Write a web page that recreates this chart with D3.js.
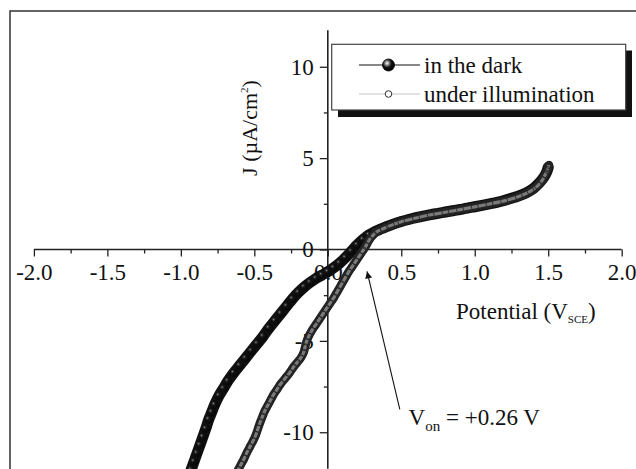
<!DOCTYPE html>
<html>
<head>
<meta charset="utf-8">
<script src="https://cdn.jsdelivr.net/npm/d3@7"></script>
<style>
  html, body { margin: 0; padding: 0; background: #fff; }
  svg { display: block; }
  text { font-family: "Liberation Serif", "Times New Roman", serif; fill: #111; }
</style>
</head>
<body>
<svg id="chart" width="636" height="469"></svg>
<script>
// ---------- data ----------
const darkX = [-0.93,-0.91,-0.89,-0.87,-0.85,-0.83,-0.81,-0.79,-0.77,-0.74,-0.71,-0.68,-0.64,-0.60,-0.56,-0.52,-0.48,-0.44,-0.40,-0.36,-0.32,-0.28,-0.24,-0.20,-0.16,-0.12,-0.08,-0.04,0.00,0.04,0.08,0.12,0.16,0.20,0.24,0.28,0.32,0.36,0.40,0.45,0.50,0.55,0.60,0.65,0.70,0.75,0.80,0.85,0.90,0.95,1.00,1.05,1.10,1.15,1.20,1.25,1.30,1.35,1.40,1.44,1.47,1.49,1.50];
const darkJ = [-12.05,-11.6,-11.15,-10.7,-10.25,-9.8,-9.3,-8.9,-8.5,-8.0,-7.6,-7.2,-6.75,-6.35,-5.95,-5.55,-5.15,-4.75,-4.3,-3.9,-3.5,-3.1,-2.7,-2.35,-2.05,-1.8,-1.58,-1.4,-1.22,-1.0,-0.75,-0.45,-0.1,0.25,0.55,0.8,0.98,1.12,1.25,1.4,1.53,1.64,1.74,1.83,1.91,1.98,2.05,2.12,2.19,2.26,2.34,2.42,2.5,2.58,2.68,2.8,2.93,3.1,3.35,3.65,3.95,4.25,4.5];

const illumX = [-0.61,-0.59,-0.57,-0.55,-0.53,-0.51,-0.49,-0.475,-0.46,-0.445,-0.43,-0.41,-0.39,-0.37,-0.345,-0.32,-0.29,-0.26,-0.235,-0.21,-0.185,-0.165,-0.155,-0.145,-0.13,-0.11,-0.085,-0.06,-0.035,-0.01,0.015,0.04,0.065,0.09,0.115,0.14,0.165,0.19,0.215,0.24,0.26,0.28,0.31,0.34,0.38,0.43,0.50,0.60,0.70,0.80,0.90,1.00,1.10,1.20,1.30,1.38,1.43,1.46,1.48,1.495,1.50,1.505];
const illumJ = [-12.05,-11.75,-11.45,-11.1,-10.8,-10.5,-10.15,-9.8,-9.45,-9.15,-8.85,-8.55,-8.25,-7.95,-7.65,-7.35,-7.05,-6.75,-6.45,-6.2,-5.95,-5.65,-5.35,-5.05,-4.75,-4.45,-4.15,-3.85,-3.55,-3.25,-2.95,-2.65,-2.3,-1.95,-1.6,-1.25,-0.95,-0.65,-0.35,-0.05,0.2,0.5,0.8,1.0,1.15,1.32,1.52,1.72,1.9,2.04,2.18,2.33,2.49,2.66,2.9,3.2,3.5,3.8,4.1,4.35,4.5,4.62];

const seriesNames = ["in the dark", "under illumination"];

const xMajorTicks = [-2.0,-1.5,-1.0,-0.5,0.0,0.5,1.0,1.5,2.0];
const xTickLabels = ["-2.0","-1.5","-1.0","-0.5","0.0","0.5","1.0","1.5","2.0"];
const xMinorTicks = [-1.75,-1.25,-0.75,-0.25,0.25,0.75,1.25,1.75];
const yMajorTicks = [-10,-5,0,5,10];
const yTickLabels = ["-10","-5","0","5","10"];
const yMinorTicks = [-7.5,-2.5,2.5,7.5];

const vonLabel = "+0.26";
const arrowTip = [0.267, -1.2];   // data coords
const arrowTail = [0.49, -8.75];
const vonTextPos = [0.55, -9.6];

// ---------- setup ----------
const svg = d3.select("#chart");
const x = d3.scaleLinear().domain([-2, 2]).range([33.9, 621.7]);
const y = d3.scaleLinear().domain([-12, 12]).range([468.8, 30.2]);

const defs = svg.append("defs");
const grad = defs.append("radialGradient").attr("id", "sphere")
  .attr("cx", "38%").attr("cy", "35%").attr("r", "60%");
grad.append("stop").attr("offset", "0%").attr("stop-color", "#fff");
grad.append("stop").attr("offset", "25%").attr("stop-color", "#999");
grad.append("stop").attr("offset", "60%").attr("stop-color", "#111");
grad.append("stop").attr("offset", "100%").attr("stop-color", "#000");

const grad2 = defs.append("radialGradient").attr("id", "sphereDark")
  .attr("cx", "35%").attr("cy", "35%").attr("r", "55%");
grad2.append("stop").attr("offset", "0%").attr("stop-color", "#999");
grad2.append("stop").attr("offset", "18%").attr("stop-color", "#3a3a3a");
grad2.append("stop").attr("offset", "45%").attr("stop-color", "#111");
grad2.append("stop").attr("offset", "100%").attr("stop-color", "#080808");

defs.append("marker").attr("id", "arrowhead")
  .attr("viewBox", "0 0 10 10").attr("refX", 10).attr("refY", 5)
  .attr("markerWidth", 12).attr("markerHeight", 7).attr("markerUnits", "userSpaceOnUse")
  .attr("orient", "auto")
  .append("path").attr("d", "M0,0 L10,5 L0,10 Z").attr("fill", "#111");

// outer frame
svg.append("rect").attr("x", 10).attr("y", 11).attr("width", 700).attr("height", 600)
  .attr("fill", "none").attr("stroke", "#333").attr("stroke-width", 1.5);

const fontSize = 23;

// ---------- axes ----------
const xAxisG = svg.append("g").attr("transform", `translate(0,${y(0)})`);
xAxisG.call(d3.axisBottom(x).tickValues(xMajorTicks).tickSize(7).tickPadding(7)
  .tickFormat((d, i) => xTickLabels[i]));
const xMinorG = svg.append("g").attr("transform", `translate(0,${y(0)})`);
xMinorG.call(d3.axisBottom(x).tickValues(xMinorTicks).tickSize(4).tickFormat(""));
xMinorG.select(".domain").remove();

const yAxisG = svg.append("g").attr("transform", `translate(${x(0)},0)`);
yAxisG.call(d3.axisLeft(y).tickValues(yMajorTicks).tickSize(8).tickPadding(6)
  .tickFormat((d, i) => yTickLabels[i]));
const yMinorG = svg.append("g").attr("transform", `translate(${x(0)},0)`);
yMinorG.call(d3.axisLeft(y).tickValues(yMinorTicks).tickSize(4).tickFormat(""));
yMinorG.select(".domain").remove();

[xAxisG, xMinorG, yAxisG, yMinorG].forEach(g => {
  g.selectAll(".domain").attr("stroke", "#222").attr("stroke-width", 1.6);
  g.selectAll(".tick line").attr("stroke", "#222").attr("stroke-width", 1.3);
  g.selectAll("text").attr("font-family", "Liberation Serif").attr("font-size", fontSize).attr("fill", "#111");
});
xAxisG.select(".domain").attr("d", `M${x(-2)},0H${x(2)}`);
yAxisG.select(".domain").attr("d", `M0,${y(-12)}V${y(12)}`);

// ---------- axis titles ----------
const xt = svg.append("text").attr("x", 456).attr("y", 319).attr("font-size", fontSize);
xt.append("tspan").text("Potential (V");
xt.append("tspan").attr("font-size", 11).attr("dy", 4).text("SCE");
xt.append("tspan").attr("dy", -4).text(")");

const yt = svg.append("text").attr("transform", `translate(257,128) rotate(-90)`)
  .attr("text-anchor", "middle").attr("font-size", 22);
yt.append("tspan").text("J (µA/cm");
yt.append("tspan").attr("font-size", 11).attr("dy", -9).text("2");
yt.append("tspan").attr("dy", 9).text(")");

// ---------- series ----------
const darkData = darkX.map((v, i) => [v, darkJ[i]]);
const illumData = illumX.map((v, i) => [v, illumJ[i]]);
const line = d3.line().x(d => x(d[0])).y(d => y(d[1])).curve(d3.curveCatmullRom);

// dark series
svg.append("path").datum(darkData).attr("d", line)
  .attr("fill", "none").attr("stroke", "#111").attr("stroke-width", 11)
  .attr("stroke-linejoin", "round").attr("stroke-linecap", "round");
svg.append("g").selectAll("circle").data(darkData).join("circle")
  .attr("cx", d => x(d[0])).attr("cy", d => y(d[1])).attr("r", 4.5)
  .attr("fill", "url(#sphereDark)").attr("stroke", "#111").attr("stroke-width", 0.6);

// illumination series
svg.append("path").datum(illumData).attr("d", line)
  .attr("fill", "none").attr("stroke", "#222").attr("stroke-width", 8.5)
  .attr("stroke-linejoin", "round").attr("stroke-linecap", "round");
svg.append("path").datum(illumData).attr("d", line)
  .attr("fill", "none").attr("stroke", "#7a7a7a").attr("stroke-width", 3.2);
svg.append("g").selectAll("circle").data(illumData).join("circle")
  .attr("cx", d => x(d[0])).attr("cy", d => y(d[1])).attr("r", 3.5)
  .attr("fill", "none").attr("stroke", "#262626").attr("stroke-width", 0.9);

// ---------- annotation ----------
svg.append("line")
  .attr("x1", x(arrowTail[0])).attr("y1", y(arrowTail[1]))
  .attr("x2", x(arrowTip[0])).attr("y2", y(arrowTip[1]))
  .attr("stroke", "#111").attr("stroke-width", 1.1)
  .attr("marker-end", "url(#arrowhead)");
const vt = svg.append("text").attr("x", x(vonTextPos[0])).attr("y", y(vonTextPos[1])).attr("font-size", fontSize);
vt.append("tspan").text("V");
vt.append("tspan").attr("font-size", 15).attr("dy", 6).text("on");
vt.append("tspan").attr("dy", -6).text(` = ${vonLabel} V`);

// ---------- legend ----------
const lg = svg.append("g");
lg.append("rect").attr("x", 338).attr("y", 50.5).attr("width", 294).attr("height", 66.5).attr("fill", "#111");
lg.append("rect").attr("x", 331.7).attr("y", 44.3).attr("width", 294).attr("height", 65.7)
  .attr("fill", "#fff").attr("stroke", "#444").attr("stroke-width", 1.2);
const rows = [
  {name: seriesNames[0], y: 65, lineColor: "#111", lw: 1.2},
  {name: seriesNames[1], y: 94, lineColor: "#c4c4c4", lw: 1.2}
];
rows.forEach((r, i) => {
  lg.append("line").attr("x1", 359).attr("x2", 420).attr("y1", r.y).attr("y2", r.y)
    .attr("stroke", r.lineColor).attr("stroke-width", r.lw);
  if (i === 0) {
    lg.append("circle").attr("cx", 388.5).attr("cy", r.y).attr("r", 6)
      .attr("fill", "url(#sphere)").attr("stroke", "#000").attr("stroke-width", 0.8);
  } else {
    lg.append("circle").attr("cx", 388.5).attr("cy", r.y).attr("r", 3.3)
      .attr("fill", "#fff").attr("stroke", "#333").attr("stroke-width", 1);
  }
  lg.append("text").attr("x", 424).attr("y", r.y + 8).attr("font-size", fontSize).text(r.name);
});
</script>
</body>
</html>
